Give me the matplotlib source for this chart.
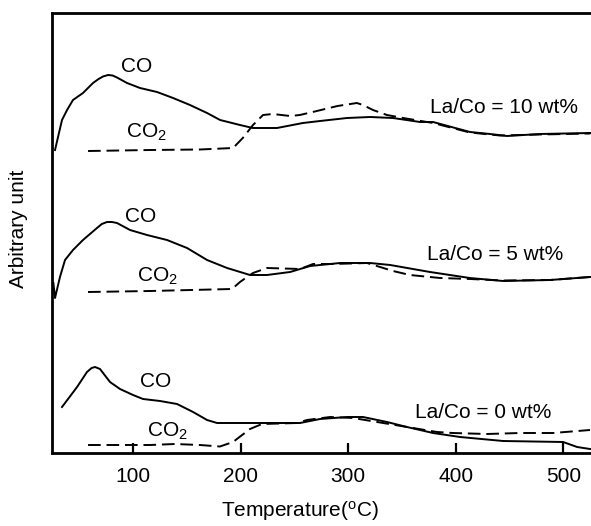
import numpy as np
import matplotlib
matplotlib.use("Agg")
import matplotlib.pyplot as plt

plt.rcParams['font.family'] = ['Liberation Sans', 'DejaVu Sans']
plt.rcParams['mathtext.fontset'] = 'custom'
plt.rcParams['mathtext.rm'] = 'Liberation Sans'
plt.rcParams['mathtext.it'] = 'Liberation Sans'

# ---- data (temperature in degC, signal in arbitrary units, offset per sample) ----
# La/Co = 10 wt%
t_co_10 = [27.5, 30.3, 34.0, 38.7, 44.2, 53.5, 62.8, 68.0, 72.1, 76.8, 81.0, 85.1, 94.4,
           106.5, 122.3, 137.2, 152.9, 168.8, 180.9, 199.4, 211.3, 233.8, 257.9,
           273.8, 298.9, 320.3, 341.6, 366.7, 378.8, 413.2, 431.8, 447.6, 478.3, 524.7]
s_co_10 = [30.3, 31.6, 33.3, 34.3, 35.3, 36.0, 37.0, 37.4, 37.65, 37.8, 37.75, 37.55, 37.0,
           36.5, 36.1, 35.5, 34.8, 34.0, 33.3, 32.8, 32.5, 32.5, 33.0,
           33.2, 33.5, 33.6, 33.5, 33.1, 33.1, 32.1, 31.9, 31.7, 31.9, 32.0]
t_co2_10 = [58.2, 116.0, 162.0, 193.0, 202.0, 211.5, 220.8, 230.0, 246.0, 255.0,
            267.0, 290.0, 308.0, 313.7, 323.0, 336.0, 351.0, 378.8, 413.0, 441.0,
            478.0, 525.0]
s_co2_10 = [30.2, 30.3, 30.35, 30.5, 31.5, 32.8, 33.8, 33.9, 33.7, 33.8,
            34.1, 34.7, 35.0, 34.8, 34.3, 33.8, 33.5, 33.0, 32.05, 31.75,
            31.85, 31.95]

# La/Co = 5 wt%
t_co_5 = [26.0, 27.5, 32.1, 36.8, 44.2, 53.5, 66.5, 71.0, 75.8, 80.5, 85.1, 97.2, 113.0,
          131.6, 150.2, 168.8, 187.4, 208.7, 224.5, 246.0, 264.6, 292.5, 320.3,
          339.0, 376.0, 413.0, 443.9, 487.6, 524.7]
s_co_5 = [17.0, 15.5, 17.6, 19.3, 20.3, 21.3, 22.5, 22.9, 23.1, 23.1, 23.0, 22.3, 21.8,
          21.3, 20.5, 19.3, 18.5, 17.8, 17.8, 18.1, 18.7, 19.0, 19.0,
          18.8, 18.1, 17.5, 17.2, 17.3, 17.6]
t_co2_5 = [58.2, 115.8, 192.0, 199.4, 208.7, 211.5, 224.5, 255.2, 267.3, 285.9,
           317.5, 329.6, 341.6, 357.4, 385.3, 413.2, 443.9, 487.6, 524.7]
s_co2_5 = [16.1, 16.2, 16.4, 17.1, 17.8, 18.0, 18.5, 18.4, 18.9, 18.9,
           19.0, 18.6, 18.2, 17.8, 17.5, 17.4, 17.25, 17.3, 17.6]

# La/Co = 0 wt%
t_co_0 = [34.0, 48.0, 57.2, 61.5, 64.7, 69.3, 78.6, 87.9, 100.0, 109.3, 125.1, 140.9,
          155.8, 168.8, 178.1, 199.4, 255.2, 273.8, 298.9, 313.7, 336.0, 354.6,
          378.8, 403.9, 443.9, 499.7, 512.7, 524.7]
s_co_0 = [4.6, 6.6, 8.1, 8.5, 8.6, 8.4, 7.1, 6.4, 5.8, 5.4, 5.2, 4.9,
          4.1, 3.3, 3.0, 3.0, 3.0, 3.4, 3.6, 3.6, 3.1, 2.6,
          2.0, 1.6, 1.2, 1.1, 0.6, 0.4]
t_co2_0 = [58.2, 115.8, 139.0, 162.2, 180.8, 192.9, 208.7, 219.9, 252.4, 261.7,
           283.1, 304.5, 326.8, 354.6, 382.5, 397.3, 428.9, 459.6, 490.3, 524.7]
s_co2_0 = [0.8, 0.8, 0.9, 0.8, 0.65, 1.1, 2.4, 2.9, 3.0, 3.3,
           3.6, 3.5, 3.1, 2.6, 2.1, 2.0, 1.9, 2.0, 2.0, 2.3]

xticks = [100, 200, 300, 400, 500]
sample_labels = ["La/Co = 10 wt%", "La/Co = 5 wt%", "La/Co = 0 wt%"]

# ---- figure ----
fig = plt.figure(figsize=(5.91, 5.26), dpi=100)
ax = fig.add_axes([52 / 591, 1 - 453 / 526, 1 - 52 / 591, (453 - 13) / 526])

lw = 1.4
for t, s in [(t_co_10, s_co_10), (t_co_5, s_co_5), (t_co_0, s_co_0)]:
    ax.plot(t, s, color='black', lw=lw, solid_joinstyle='round')
for t, s in [(t_co2_10, s_co2_10), (t_co2_5, s_co2_5), (t_co2_0, s_co2_0)]:
    ax.plot(t, s, color='black', lw=lw, dashes=(6.5, 3))

fs = 15
# curve annotations (left edge, baseline)
ax.text(88.9, 38.1, "CO", fontsize=fs, ha='left', va='baseline')
ax.text(93.5, 31.5, "CO$_2$", fontsize=fs, ha='left', va='baseline')
ax.text(376.0, 34.0, sample_labels[0], fontsize=fs, ha='left', va='baseline')

ax.text(92.6, 23.1, "CO", fontsize=fs, ha='left', va='baseline')
ax.text(103.7, 17.1, "CO$_2$", fontsize=fs, ha='left', va='baseline')
ax.text(373.2, 19.3, sample_labels[1], fontsize=fs, ha='left', va='baseline')

ax.text(106.5, 6.6, "CO", fontsize=fs, ha='left', va='baseline')
ax.text(113.0, 1.6, "CO$_2$", fontsize=fs, ha='left', va='baseline')
ax.text(362.1, 3.5, sample_labels[2], fontsize=fs, ha='left', va='baseline')

ax.set_xlim(24.7, 525.6)
ax.set_ylim(0, 44)
ax.set_xticks(xticks)
ax.set_xticklabels([str(v) for v in xticks])
ax.set_yticks([])
ax.tick_params(axis='x', direction='in', length=7.2, width=1.6,
               labelsize=fs, pad=10)

for side in ['left', 'bottom', 'top']:
    ax.spines[side].set_linewidth(2.0)
ax.spines['right'].set_visible(False)

fig.text(19 / 591, 1 - 229 / 526, "Arbitrary unit", rotation=90,
         fontsize=fs, ha='center', va='center')
fig.text(300 / 591, 1 - 511 / 526, "Temperature($^{\\rm o}$C)",
         fontsize=fs, ha='center', va='center')

fig.savefig("out.png", dpi=100)
